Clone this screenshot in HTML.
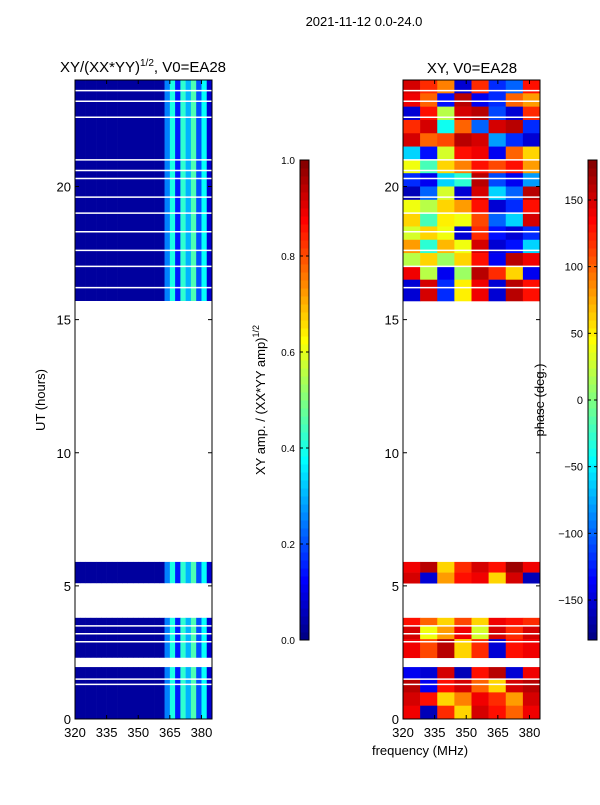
<!DOCTYPE html>
<html><head><meta charset="utf-8"><style>
body{margin:0;background:#fff;font-family:"Liberation Sans","DejaVu Sans",sans-serif}
svg text{font-family:"Liberation Sans","DejaVu Sans",sans-serif;fill:#000}
</style></head><body>
<svg id="c" width="600" height="800" xmlns="http://www.w3.org/2000/svg"></svg>
<script>
const segments=[[15.7,24],[5.1,5.9],[2.3,3.8],[0,1.95]];
const whiteLines=[23.6,23.2,22.6,21.0,20.6,20.3,19.6,19.0,18.3,17.6,17.0,16.2,3.5,3.2,2.9,1.5,1.3];
const ampFreqStart=320, ampFreqStep=2.5;
const ampCols=[0.03,0.03,0.03,0.03,0.03,0.03,0.03,0.03,0.03,0.03,0.03,0.03,0.03,0.03,0.03,0.03,0.03,0.25,0.4,0.15,0.42,0.3,0.45,0.2,0.38,0.08];
const phaseRowTimes=[23.5,23,22.5,22,21.5,21,20.5,20,19.5,19,18.5,18,17.5,17,16.5,16,15.5,5.5,5.0,3.5,3.0,2.5,2.0,1.5,1.0,0.5,0.0];
const phaseRows=[
[150,120,90,-150,120,-120,-100,130],
[140,100,-130,160,-140,-120,100,80],
[-150,130,20,150,160,-110,-150,120],
[120,150,-40,100,-100,150,160,-120],
[150,100,110,160,150,-80,-120,-150],
[-60,-130,30,130,140,-140,100,60],
[40,-20,60,90,130,110,130,80],
[-120,-140,-60,-30,160,-110,-140,-80],
[-160,-100,30,-150,150,-60,-100,160],
[40,20,60,80,130,-150,-120,130],
[60,-20,50,40,110,-100,-60,150],
[30,60,40,-150,120,-130,-150,-120],
[80,-30,70,40,150,-150,-130,-60],
[20,60,10,60,130,-140,160,140],
[140,20,-140,10,160,120,60,-140],
[-150,150,-120,50,140,-150,160,130],
[-150,150,-120,50,140,-150,160,130],
[140,160,60,120,150,130,170,140],
[150,-150,80,130,140,60,150,-160],
[130,100,60,110,60,140,130,120],
[150,40,80,140,30,150,120,150],
[140,110,160,60,120,-150,130,140],
[140,110,160,60,120,-150,130,140],
[-140,-150,150,-160,130,160,-150,140],
[160,-140,130,150,100,60,150,160],
[150,130,60,90,140,120,80,150],
[140,-160,120,60,150,130,100,140]];
const yTicks=[0,5,10,15,20];
const xTicks=[320,335,350,365,380];
const ampTicks=[0,0.2,0.4,0.6,0.8,1.0];
const phTicks=[-150,-100,-50,0,50,100,150];

const NS="http://www.w3.org/2000/svg",svg=document.getElementById('c');
function el(t,a,txt){const e=document.createElementNS(NS,t);for(const k in a)e.setAttribute(k,a[k]);if(txt!=null)e.textContent=txt;svg.appendChild(e);return e;}
function jet(v){v=Math.max(0,Math.min(1,v));const r=Math.min(1,Math.max(0,1.5-Math.abs(4*v-3))),g=Math.min(1,Math.max(0,1.5-Math.abs(4*v-2))),b=Math.min(1,Math.max(0,1.5-Math.abs(4*v-1)));return `rgb(${Math.round(r*255)},${Math.round(g*255)},${Math.round(b*255)})`;}
const Y=t=>719-t*(639/24);
const panels=[{x0:75},{x0:403}];
const X=(p,f)=>p.x0+(f-320)*(137/65);
function inSeg(t0,t1,cb){segments.forEach(s=>{const a=Math.max(t0,s[0]),b=Math.min(t1,s[1]);if(b>a)cb(a,b);});}
const L=panels[0];
segments.forEach(s=>{ampCols.forEach((v,i)=>{const f0=ampFreqStart+i*ampFreqStep;
const r=el('rect',{x:X(L,f0),y:Y(s[1]),width:X(L,f0+ampFreqStep)-X(L,f0)+0.3,height:Y(s[0])-Y(s[1]),fill:jet(v)});
});});
const R=panels[1];
phaseRowTimes.forEach((t,ri)=>{inSeg(t,t+0.5,(a,b)=>{phaseRows[ri].forEach((v,ci)=>{const f0=320+ci*65/8,f1=f0+65/8;
const r=el('rect',{x:X(R,f0),y:Y(b),width:X(R,f1)-X(R,f0)+0.3,height:Y(a)-Y(b)+0.3,fill:jet((v+180)/360)});
});});});
panels.forEach(p=>whiteLines.forEach(t=>{const l=el('line',{x1:p.x0,x2:p.x0+137,y1:Y(t),y2:Y(t),stroke:'#fff','stroke-width':1.5});}));
panels.forEach((p,pi)=>{
const fr=el('rect',{x:p.x0,y:80,width:137,height:639,fill:'none',stroke:'#000'});
yTicks.forEach(t=>{el('line',{x1:p.x0,x2:p.x0+4,y1:Y(t),y2:Y(t),stroke:'#000'});el('line',{x1:p.x0+137,x2:p.x0+133,y1:Y(t),y2:Y(t),stroke:'#000'});
const tx=el('text',{x:p.x0-4,y:Y(t)+5,'text-anchor':'end','font-size':13},t);});
xTicks.forEach(f=>{el('line',{x1:X(p,f),x2:X(p,f),y1:719,y2:715,stroke:'#000'});el('line',{x1:X(p,f),x2:X(p,f),y1:80,y2:84,stroke:'#000'});
const tx=el('text',{x:X(p,f),y:737,'text-anchor':'middle','font-size':13},f);});
});
function cbar(x,ticks,lo,hi,fmt,name){
const n=60;for(let i=0;i<n;i++){el('rect',{x:x,y:640-(i+1)*8,width:9,height:8.5,fill:jet((i+0.5)/n)});}
const b=el('rect',{x:x,y:160,width:9,height:480,fill:'none',stroke:'#000'});
ticks.forEach(t=>{const y=640-(t-lo)/(hi-lo)*480;el('line',{x1:x,x2:x+3,y1:y,y2:y,stroke:'#000'});el('line',{x1:x+9,x2:x+6,y1:y,y2:y,stroke:'#000'});
const tx=el('text',{x:x==300?295:583,y:y+4,'text-anchor':'end','font-size':name==='amp-colorbar'?10:11},fmt(t));});}
cbar(300,ampTicks,0,1,t=>t.toFixed(1),'amp-colorbar');
cbar(588,phTicks,-180,180,t=>t<0?'\u2212'+(-t):''+t,'phase-colorbar');
</script>
<svg style="position:absolute;left:0;top:0" width="600" height="800" xmlns="http://www.w3.org/2000/svg">
<text x="364" y="26" text-anchor="middle" font-size="13">2021-11-12 0.0-24.0</text>
<text x="143" y="72" text-anchor="middle" font-size="15">XY/(XX*YY)<tspan font-size="10" dy="-6">1/2</tspan><tspan dy="6">, V0=EA28</tspan></text>
<text x="472" y="73" text-anchor="middle" font-size="15">XY, V0=EA28</text>
<text transform="translate(45,400) rotate(-90)" text-anchor="middle" font-size="13">UT (hours)</text>
<text x="420" y="755" text-anchor="middle" font-size="13">frequency (MHz)</text>
<text transform="translate(265,400) rotate(-90)" text-anchor="middle" font-size="13">XY amp. / (XX*YY amp)<tspan font-size="9" dy="-6">1/2</tspan></text>
<text transform="translate(544,400) rotate(-90)" text-anchor="middle" font-size="13">phase (deg.)</text>
</svg>
</body></html>
